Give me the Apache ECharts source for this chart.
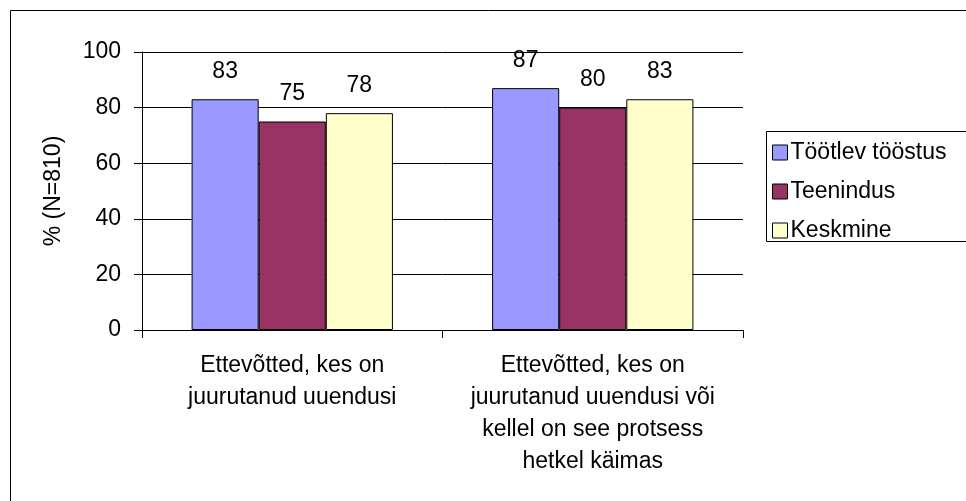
<!DOCTYPE html>
<html>
<head>
<meta charset="utf-8">
<script src="https://cdn.jsdelivr.net/npm/echarts@6/dist/echarts.min.js"></script>
<style>html,body{margin:0;padding:0;background:#fff}#c{width:966px;height:501px}</style>
</head>
<body>
<div id="c"></div>
<script>
var categories = ['Ettevõtted, kes on\njuurutanud uuendusi', 'Ettevõtted, kes on\njuurutanud uuendusi või\nkellel on see protsess\nhetkel käimas'];
var seriesNames = ['Töötlev tööstus', 'Teenindus', 'Keskmine'];
var tootlev = [83, 87];
var teenindus = [75, 80];
var keskmine = [78, 83];
var yTicks = [0, 20, 40, 60, 80, 100];
var colors = ['#9999FF', '#993366', '#FFFFCC'];

var FONT = '"Liberation Sans", Arial, sans-serif';
var FS = 23;
var chart = echarts.init(document.getElementById('c'), null, {renderer: 'canvas'});
var values = [tootlev, teenindus, keskmine];
chart.setOption({
  animation: false,
  backgroundColor: '#fff',
  textStyle: {fontFamily: FONT},
  graphic: [
    {type: 'rect', shape: {x: 10.5, y: 10.5, width: 1000, height: 600}, style: {fill: 'none', stroke: '#000', lineWidth: 1}, z: -1},
    {type: 'rect', shape: {x: 766.5, y: 131.5, width: 300, height: 110}, style: {fill: '#fff', stroke: '#000', lineWidth: 1}, z: 0}
  ],
  grid: {left: 142, right: 223, top: 52, bottom: 171, containLabel: false},
  legend: {
    orient: 'vertical', left: 767, top: 136, itemWidth: 15, itemHeight: 15, itemGap: 16,
    icon: 'rect', z: 5,
    itemStyle: {borderColor: '#000', borderWidth: 1},
    textStyle: {fontFamily: FONT, fontSize: FS, color: '#000', padding: [0, 0, 0, -2]},
    data: seriesNames
  },
  xAxis: {
    type: 'category', data: categories,
    axisLine: {show: true, lineStyle: {color: '#000', width: 1}},
    axisTick: {show: true, length: 8, lineStyle: {color: '#000'}},
    axisLabel: {fontFamily: FONT, fontSize: FS, color: '#000', lineHeight: 32, margin: 20, interval: 0, align: 'center'}
  },
  yAxis: {
    type: 'value', min: yTicks[0], max: yTicks[yTicks.length - 1], interval: 20,
    name: '% (N=810)', nameLocation: 'middle', nameGap: 77, nameRotate: 90,
    nameTextStyle: {fontFamily: FONT, fontSize: FS, color: '#000'},
    axisLine: {show: true, lineStyle: {color: '#000', width: 1}},
    axisTick: {show: true, length: 8, lineStyle: {color: '#000'}},
    splitLine: {show: true, lineStyle: {color: '#000', width: 1}},
    axisLabel: {fontFamily: FONT, fontSize: FS, color: '#000', margin: 21}
  },
  series: seriesNames.map(function (n, i) {
    return {
      name: n, type: 'bar', data: values[i], barGap: '0%', barCategoryGap: '33%',
      itemStyle: {color: colors[i], borderColor: '#000', borderWidth: 1},
      label: {show: true, position: 'top', distance: 16, fontFamily: FONT, fontSize: FS, color: '#000'}
    };
  })
});
</script>
</body>
</html>
